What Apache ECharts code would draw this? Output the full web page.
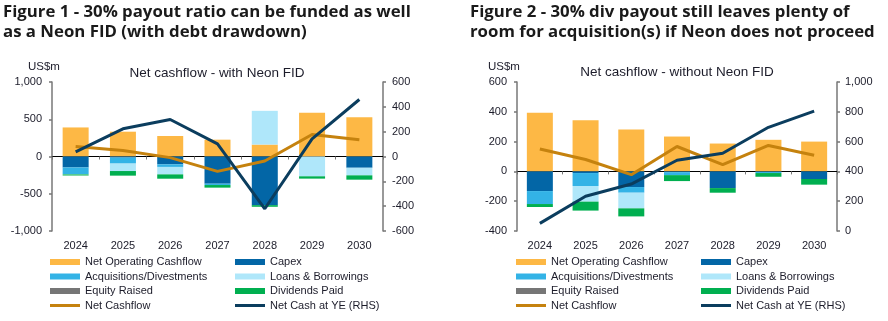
<!DOCTYPE html>
<html>
<head>
<meta charset="utf-8">
<script src="https://cdn.jsdelivr.net/npm/echarts@6/dist/echarts.min.js"></script>
<style>
  html, body { margin: 0; padding: 0; background: #fff; }
  #main { width: 888px; height: 321px; }
</style>
</head>
<body>
<div id="main"></div>
<script>
// years on the x axis
var years = ['2024', '2025', '2026', '2027', '2028', '2029', '2030'];

// Figure 1 - with Neon FID (US$m, left axis; net cash on RHS)
var f1_opCash  = [390, 333, 275, 226, 160, 586, 528];
var f1_capex   = [-147, -15, -105, -365, -653, 0, -151];
var f1_acq     = [-88, -80, -35, -18, 0, 0, 0];
var f1_loans   = [-5, -100, -100, 0, 453, -266, -102];
var f1_equity  = [0, 0, 0, 0, 0, 0, 0];
var f1_div     = [-15, -62, -58, -35, -22, -31, -58];
var f1_netCf   = [135, 80, -15, -200, -60, 295, 225];
var f1_netCash = [38, 223, 298, 102, -421, 142, 459];

// Figure 2 - without Neon FID
var f2_opCash  = [393, 344, 281, 234, 187, 212, 200];
var f2_capex   = [-132, -11, -105, -5, -112, -3, -51];
var f2_acq     = [-87, -87, -38, -20, 0, -8, 0];
var f2_loans   = [0, -105, -105, 0, 0, 0, 0];
var f2_equity  = [0, 0, 0, 0, 0, 0, 0];
var f2_div     = [-20, -60, -54, -40, -31, -25, -38];
var f2_netCf   = [150, 80, -22, 167, 45, 174, 108];
var f2_netCash = [51, 233, 315, 475, 522, 696, 804];

var C = {
    op: '#FDB845', capex: '#0366A6', acq: '#33B3E6', loans: '#AFE7FA',
    equity: '#767676', div: '#00AF50', netCf: '#C5820E', netCash: '#0B3D5E'
};
var txt = '#1c1c2a';
var fmt = function (v) { return v.toLocaleString('en-US'); };

// g = grid index; x axes 2g (labels) and 2g+1 (zero line), y axes 2g and 2g+1
function barSeries(name, data, color, g) {
    return {
        name: name, type: 'bar', stack: 'cf' + g, data: data,
        xAxisIndex: g * 2, yAxisIndex: g * 2,
        barWidth: 26, itemStyle: {color: color}, z: 2
    };
}
function lineSeries(name, data, color, g, rhs) {
    return {
        name: name, type: 'line', data: data, symbol: 'none',
        xAxisIndex: g * 2, yAxisIndex: g * 2 + (rhs ? 1 : 0),
        lineStyle: {color: color, width: 3}, itemStyle: {color: color}, z: rhs ? 6 : 5
    };
}
function allSeries(g, d) {
    return [
        barSeries('Net Operating Cashflow', d.op, C.op, g),
        barSeries('Capex', d.capex, C.capex, g),
        barSeries('Acquisitions/Divestments', d.acq, C.acq, g),
        barSeries('Loans & Borrowings', d.loans, C.loans, g),
        barSeries('Equity Raised', d.equity, C.equity, g),
        barSeries('Dividends Paid', d.div, C.div, g),
        lineSeries('Net Cashflow', d.netCf, C.netCf, g, false),
        lineSeries('Net Cash at YE (RHS)', d.netCash, C.netCash, g, true)
    ];
}

function xAxes(g) {
    return [
        { type: 'category', gridIndex: g, data: years, position: 'bottom',
          axisLine: {show: false}, axisTick: {show: false},
          axisLabel: {color: txt, fontSize: 11, margin: 9, fontFamily: 'Liberation Sans'} },
        { type: 'category', gridIndex: g, data: years, position: 'bottom',
          axisLine: {onZero: true, onZeroAxisIndex: g * 2, lineStyle: {color: '#000', width: 1}},
          axisTick: {show: true, length: 3, lineStyle: {color: '#777'}},
          axisLabel: {show: false} }
    ];
}
function yAxis(g, pos, min, max, step, margin) {
    return {
        type: 'value', gridIndex: g, position: pos, min: min, max: max, interval: step,
        splitLine: {show: false},
        axisLine: {show: true, onZero: false, lineStyle: {color: '#777', width: 1.5}},
        axisTick: {show: true, length: 3, lineStyle: {color: '#777', width: 1.5}},
        axisLabel: {color: txt, fontSize: 11, margin: margin, fontFamily: 'Liberation Sans', formatter: fmt}
    };
}

// thin horizontal bar (3px of the 6px icon height) for the line entries
var lineIcon = 'path://M0,0L30,0L30,0.01L0,0.01Z M0,1.5L30,1.5L30,4.5L0,4.5Z M0,5.99L30,5.99L30,6L0,6Z';
var legendText = {color: txt, fontSize: 11, lineHeight: 12, fontFamily: 'Liberation Sans'};
function legend(left, names) {
    return {
        orient: 'vertical', left: left, top: 256, padding: 0, height: 65,
        itemWidth: 30, itemHeight: 6, itemGap: 2.5, itemTextGap: 4,
        textStyle: legendText, selectedMode: false,
        data: names.map(function (n) {
            return (n === 'Net Cashflow' || n === 'Net Cash at YE (RHS)') ? {name: n, icon: lineIcon} : {name: n, icon: 'rect'};
        })
    };
}
var col1 = ['Net Operating Cashflow', 'Acquisitions/Divestments', 'Equity Raised', 'Net Cashflow'];
var col2 = ['Capex', 'Loans & Borrowings', 'Dividends Paid', 'Net Cash at YE (RHS)'];

var figTitle = {fontFamily: 'Open Sans', fontWeight: 'bold', fontSize: 16.8, lineHeight: 20, color: '#1a1a1a'};
var subTitle = {fontFamily: 'Liberation Sans', fontWeight: 'normal', fontSize: 13.5, color: txt};
var unitText = {fontFamily: 'Liberation Sans', fontWeight: 'normal', fontSize: 11.5, color: txt};

var chart = echarts.init(document.getElementById('main'));
var option = {
    backgroundColor: '#fff',
    animation: false,
    title: [
        { text: 'Figure 1 - 30% payout ratio can be funded as well\nas a Neon FID (with debt drawdown)',
          left: 3, top: 2, padding: 0, textStyle: figTitle },
        { text: 'Figure 2 - 30% div payout still leaves plenty of\nroom for acquisition(s) if Neon does not proceed',
          left: 470, top: 2, padding: 0, textStyle: figTitle },
        { text: 'Net cashflow - with Neon FID', left: 217, top: 66, padding: 0, textAlign: 'center', textStyle: subTitle },
        { text: 'Net cashflow - without Neon FID', left: 677, top: 65, padding: 0, textAlign: 'center', textStyle: subTitle },
        { text: 'US$m', left: 28, top: 61, padding: 0, textStyle: unitText },
        { text: 'US$m', left: 488, top: 61, padding: 0, textStyle: unitText }
    ],
    grid: [
        {left: 52, right: 505, top: 82, bottom: 90},
        {left: 517, right: 51, top: 82, bottom: 90}
    ],
    xAxis: xAxes(0).concat(xAxes(1)),
    yAxis: [
        yAxis(0, 'left', -1000, 1000, 500, 10),
        yAxis(0, 'right', -600, 600, 200, 9),
        yAxis(1, 'left', -400, 600, 200, 10),
        yAxis(1, 'right', 0, 1000, 200, 8)
    ],
    legend: [legend(50, col1), legend(235, col2), legend(516, col1), legend(701, col2)],
    series: allSeries(0, {op: f1_opCash, capex: f1_capex, acq: f1_acq, loans: f1_loans,
                          equity: f1_equity, div: f1_div, netCf: f1_netCf, netCash: f1_netCash})
        .concat(allSeries(1, {op: f2_opCash, capex: f2_capex, acq: f2_acq, loans: f2_loans,
                          equity: f2_equity, div: f2_div, netCf: f2_netCf, netCash: f2_netCash}))
};
chart.setOption(option);
</script>
</body>
</html>
